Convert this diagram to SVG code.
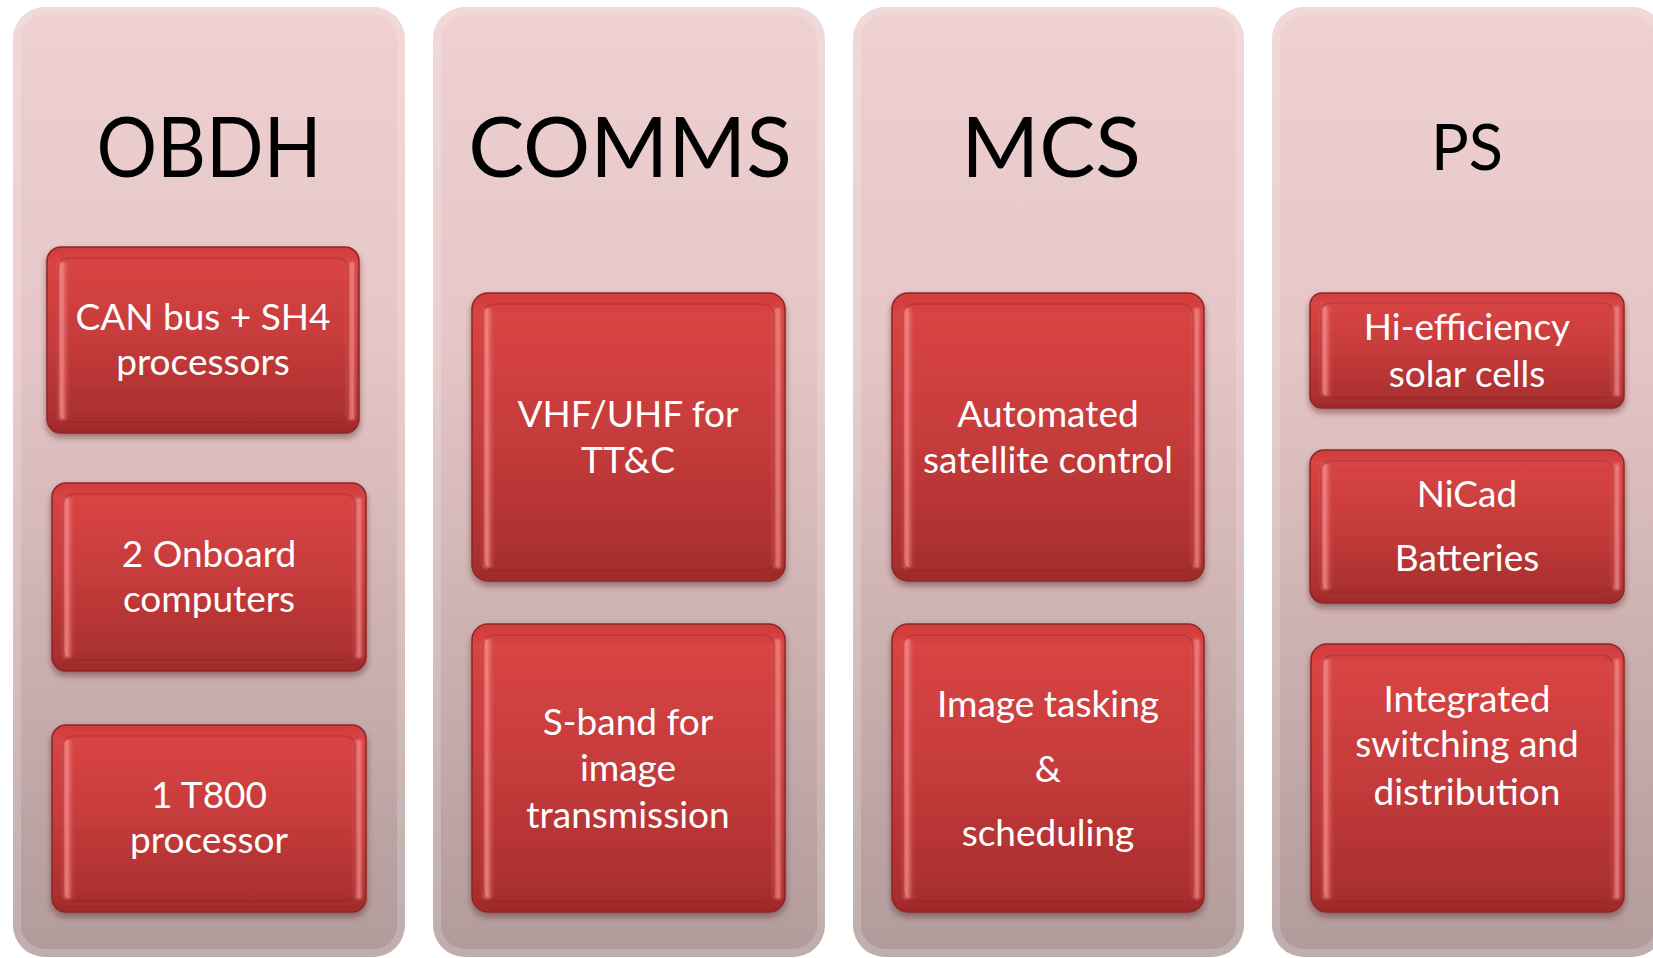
<svg xmlns="http://www.w3.org/2000/svg" width="1653" height="958" viewBox="0 0 1653 958">
<defs>
<linearGradient id="colGrad" x1="0" y1="7" x2="0" y2="957" gradientUnits="userSpaceOnUse">
<stop offset="0" stop-color="#EFD1D1"/>
<stop offset="0.35" stop-color="#E6C6C6"/>
<stop offset="1" stop-color="#B29B9B"/>
</linearGradient>
<linearGradient id="redGrad" x1="0" y1="0" x2="0" y2="1">
<stop offset="0" stop-color="#D13B3B"/>
<stop offset="0.08" stop-color="#D84444"/>
<stop offset="0.5" stop-color="#C63B3B"/>
<stop offset="0.92" stop-color="#AA2F2F"/>
<stop offset="1" stop-color="#9E2A2A"/>
</linearGradient>
<linearGradient id="hlL" x1="0" y1="0" x2="1" y2="0">
<stop offset="0" stop-color="#E86060" stop-opacity="0"/>
<stop offset="0.4" stop-color="#FF9A9A" stop-opacity="0.85"/>
<stop offset="1" stop-color="#D04444" stop-opacity="0"/>
</linearGradient>
<linearGradient id="hlR" x1="0" y1="0" x2="1" y2="0">
<stop offset="0" stop-color="#D04444" stop-opacity="0"/>
<stop offset="0.6" stop-color="#FF9A9A" stop-opacity="0.8"/>
<stop offset="1" stop-color="#B03030" stop-opacity="0"/>
</linearGradient>
<filter id="sh" x="-10%" y="-10%" width="120%" height="130%">
<feDropShadow dx="0" dy="4" stdDeviation="3" flood-color="#4A1E1E" flood-opacity="0.45"/>
</filter>
<filter id="soft" x="-50%" y="-5%" width="200%" height="110%">
<feGaussianBlur stdDeviation="1.2"/>
</filter>
<style>
.col{fill:url(#colGrad);}
.colEdge{fill:none;stroke:#FFFFFF;stroke-opacity:0.18;stroke-width:8;}
.box{fill:url(#redGrad);stroke:#8E2626;stroke-width:1.5;filter:url(#sh);}
.hl-l{fill:url(#hlL);filter:url(#soft);}
.hl-r{fill:url(#hlR);filter:url(#soft);}
.bev{fill:none;stroke:#8A2222;stroke-opacity:0.3;stroke-width:1.5;}
.hdr{font-family:Lato,"Liberation Sans",sans-serif;font-size:84px;fill:#000000;text-anchor:middle;}
.hdrs{font-family:Lato,"Liberation Sans",sans-serif;font-size:63px;fill:#000000;text-anchor:middle;}
.lbl{font-family:Lato,"Liberation Sans",sans-serif;font-size:37px;fill:#FFFFFF;text-anchor:middle;}
</style>
</defs>

<g id="col-obdh">
<rect class="col" x="13" y="7" width="392" height="950" rx="32"/>
<rect class="colEdge" x="17" y="11" width="384" height="942" rx="28"/>
<text class="hdr" x="209" y="177" textLength="225" lengthAdjust="spacingAndGlyphs">OBDH</text>
</g>
<g id="col-comms">
<rect class="col" x="433" y="7" width="392" height="950" rx="32"/>
<rect class="colEdge" x="437" y="11" width="384" height="942" rx="28"/>
<text class="hdr" x="630" y="177">COMMS</text>
</g>
<g id="col-mcs">
<rect class="col" x="853" y="7" width="391" height="950" rx="32"/>
<rect class="colEdge" x="857" y="11" width="383" height="942" rx="28"/>
<text class="hdr" x="1051" y="177">MCS</text>
</g>
<g id="col-ps">
<rect class="col" x="1272" y="7" width="392" height="950" rx="32"/>
<rect class="colEdge" x="1276" y="11" width="384" height="942" rx="28"/>
<text class="hdrs" x="1467" y="170">PS</text>
</g>

<g id="obdh-1">
<rect class="box" x="47" y="247" width="312" height="186" rx="14"/>
<rect class="hl-l" x="56" y="262" width="14" height="158" rx="5"/>
<rect class="hl-r" x="344" y="262" width="14" height="158" rx="5"/>
<rect class="bev" x="58" y="258" width="290" height="164" rx="10"/>
<text class="lbl" x="203" y="330">CAN bus + SH4</text>
<text class="lbl" x="203" y="375">processors</text>
</g>
<g id="obdh-2">
<rect class="box" x="52" y="483" width="314" height="188" rx="14"/>
<rect class="hl-l" x="61" y="498" width="14" height="160" rx="5"/>
<rect class="hl-r" x="351" y="498" width="14" height="160" rx="5"/>
<rect class="bev" x="63" y="494" width="292" height="166" rx="10"/>
<text class="lbl" x="209" y="567">2 Onboard</text>
<text class="lbl" x="209" y="612">computers</text>
</g>
<g id="obdh-3">
<rect class="box" x="52" y="725" width="314" height="187" rx="14"/>
<rect class="hl-l" x="61" y="740" width="14" height="159" rx="5"/>
<rect class="hl-r" x="351" y="740" width="14" height="159" rx="5"/>
<rect class="bev" x="63" y="736" width="292" height="165" rx="10"/>
<text class="lbl" x="209" y="808">1 T800</text>
<text class="lbl" x="209" y="853">processor</text>
</g>

<g id="comms-1">
<rect class="box" x="472" y="293" width="313" height="288" rx="16"/>
<rect class="hl-l" x="481" y="308" width="14" height="260" rx="5"/>
<rect class="hl-r" x="770" y="308" width="14" height="260" rx="5"/>
<rect class="bev" x="483" y="304" width="291" height="266" rx="11"/>
<text class="lbl" x="628" y="427">VHF/UHF for</text>
<text class="lbl" x="628" y="473">TT&amp;C</text>
</g>
<g id="comms-2">
<rect class="box" x="472" y="624" width="313" height="288" rx="16"/>
<rect class="hl-l" x="481" y="639" width="14" height="260" rx="5"/>
<rect class="hl-r" x="770" y="639" width="14" height="260" rx="5"/>
<rect class="bev" x="483" y="635" width="291" height="266" rx="11"/>
<text class="lbl" x="628" y="735">S-band for</text>
<text class="lbl" x="628" y="781">image</text>
<text class="lbl" x="628" y="828">transmission</text>
</g>

<g id="mcs-1">
<rect class="box" x="892" y="293" width="312" height="288" rx="16"/>
<rect class="hl-l" x="901" y="308" width="14" height="260" rx="5"/>
<rect class="hl-r" x="1189" y="308" width="14" height="260" rx="5"/>
<rect class="bev" x="903" y="304" width="290" height="266" rx="11"/>
<text class="lbl" x="1048" y="427">Automated</text>
<text class="lbl" x="1048" y="473">satellite control</text>
</g>
<g id="mcs-2">
<rect class="box" x="892" y="624" width="312" height="288" rx="16"/>
<rect class="hl-l" x="901" y="639" width="14" height="260" rx="5"/>
<rect class="hl-r" x="1189" y="639" width="14" height="260" rx="5"/>
<rect class="bev" x="903" y="635" width="290" height="266" rx="11"/>
<text class="lbl" x="1048" y="717">Image tasking</text>
<text class="lbl" x="1048" y="782">&amp;</text>
<text class="lbl" x="1048" y="846">scheduling</text>
</g>

<g id="ps-1">
<rect class="box" x="1310" y="293" width="314" height="115" rx="12"/>
<rect class="hl-l" x="1319" y="306" width="14" height="90" rx="5"/>
<rect class="hl-r" x="1609" y="306" width="14" height="90" rx="5"/>
<rect class="bev" x="1321" y="303" width="292" height="95" rx="9"/>
<text class="lbl" x="1467" y="340">Hi-efficiency</text>
<text class="lbl" x="1467" y="387">solar cells</text>
</g>
<g id="ps-2">
<rect class="box" x="1310" y="450" width="314" height="153" rx="14"/>
<rect class="hl-l" x="1319" y="464" width="14" height="126" rx="5"/>
<rect class="hl-r" x="1609" y="464" width="14" height="126" rx="5"/>
<rect class="bev" x="1321" y="461" width="292" height="131" rx="10"/>
<text class="lbl" x="1467" y="507">NiCad</text>
<text class="lbl" x="1467" y="571">Batteries</text>
</g>
<g id="ps-3">
<rect class="box" x="1311" y="644" width="313" height="268" rx="16"/>
<rect class="hl-l" x="1320" y="659" width="14" height="240" rx="5"/>
<rect class="hl-r" x="1609" y="659" width="14" height="240" rx="5"/>
<rect class="bev" x="1322" y="655" width="291" height="246" rx="11"/>
<text class="lbl" x="1467" y="712">Integrated</text>
<text class="lbl" x="1467" y="757">switching and</text>
<text class="lbl" x="1467" y="805">distribution</text>
</g>

<g id="connectors"></g>
</svg>
